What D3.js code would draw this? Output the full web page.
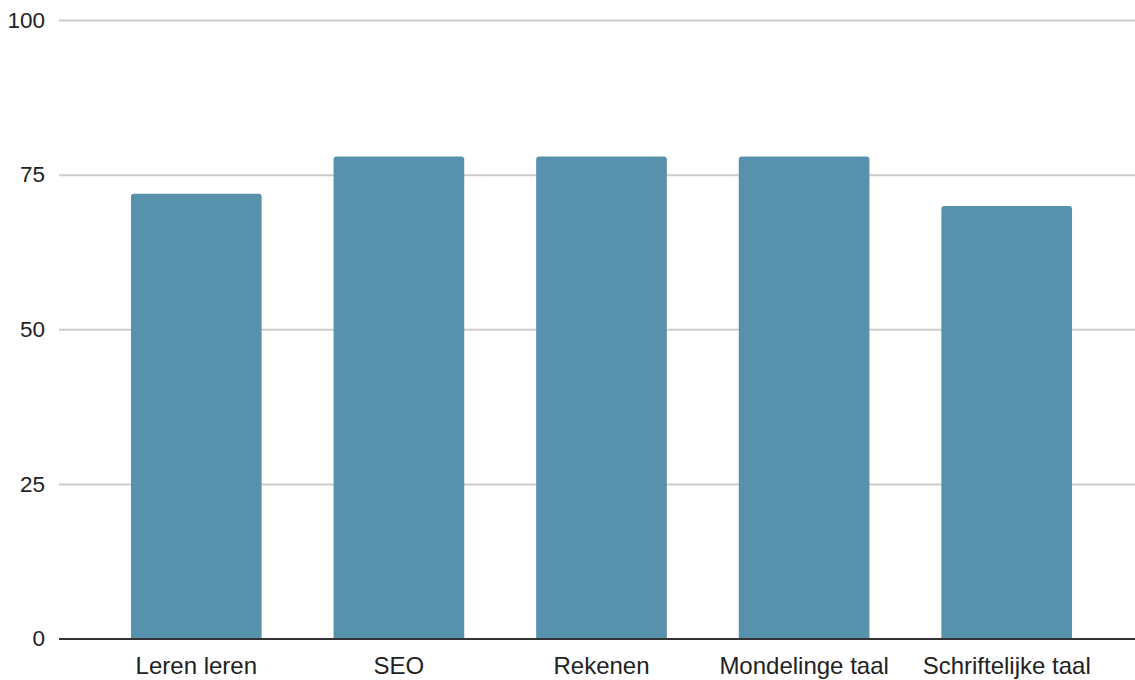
<!DOCTYPE html>
<html>
<head>
<meta charset="utf-8">
<script src="https://cdn.jsdelivr.net/npm/d3@7"></script>
<style>
  body { margin: 0; background: #fff; }
  text { font-family: "Liberation Sans", Arial, sans-serif; fill: #222; }
</style>
</head>
<body>
<div id="vis"></div>
<script>
// chart data
const CATEGORIES = ["Leren leren", "SEO", "Rekenen", "Mondelinge taal", "Schriftelijke taal"];
const VALUES = [72, 78, 78, 78, 70];
const Y_TICKS = [0, 25, 50, 75, 100];

// frame
const FRAME_WIDTH = 1135;
const FRAME_HEIGHT = 680;
const MARGINS = {left: 59, right: 0, top: 20.5, bottom: 41};

const FRAME = d3.select("#vis")
  .append("svg")
  .attr("width", FRAME_WIDTH)
  .attr("height", FRAME_HEIGHT);

// scales
const X_SCALE = d3.scaleBand()
  .domain(CATEGORIES)
  .range([95, 1108])
  .paddingInner(0.355)
  .paddingOuter(0.1775);

const Y_SCALE = d3.scaleLinear()
  .domain([0, 100])
  .range([FRAME_HEIGHT - MARGINS.bottom, MARGINS.top]);

// gridlines
FRAME.append("g")
  .selectAll("line")
  .data(Y_TICKS.filter(d => d > 0))
  .enter()
  .append("line")
  .attr("x1", MARGINS.left)
  .attr("x2", FRAME_WIDTH - MARGINS.right)
  .attr("y1", d => Y_SCALE(d))
  .attr("y2", d => Y_SCALE(d))
  .attr("stroke", "#cccccc")
  .attr("stroke-width", 2);

// y axis labels
const yAxis = FRAME.append("g")
  .attr("transform", "translate(" + (MARGINS.left - 14) + ",0)")
  .call(d3.axisLeft(Y_SCALE).tickValues(Y_TICKS).tickSize(0).tickPadding(0));
yAxis.select(".domain").remove();
yAxis.selectAll("text")
  .attr("font-size", "22.5px")
  .attr("dy", "0.3em")
  .attr("fill", "#222");

// bars with rounded tops
const R = 3;
FRAME.selectAll(".bar")
  .data(VALUES)
  .enter()
  .append("path")
  .attr("class", "bar")
  .attr("fill", "#5791ab")
  .attr("d", (d, i) => {
    const x0 = X_SCALE(CATEGORIES[i]);
    const x1 = x0 + X_SCALE.bandwidth();
    const y0 = Y_SCALE(d);
    const yb = Y_SCALE(0);
    return "M" + x0 + "," + yb +
      "V" + (y0 + R) +
      "Q" + x0 + "," + y0 + " " + (x0 + R) + "," + y0 +
      "H" + (x1 - R) +
      "Q" + x1 + "," + y0 + " " + x1 + "," + (y0 + R) +
      "V" + yb + "Z";
  });

// baseline
FRAME.append("line")
  .attr("x1", MARGINS.left)
  .attr("x2", FRAME_WIDTH - MARGINS.right)
  .attr("y1", Y_SCALE(0))
  .attr("y2", Y_SCALE(0))
  .attr("stroke", "#333333")
  .attr("stroke-width", 2);

// x axis labels
const xAxis = FRAME.append("g")
  .attr("transform", "translate(0," + Y_SCALE(0) + ")")
  .call(d3.axisBottom(X_SCALE).tickSize(0).tickPadding(0));
xAxis.select(".domain").remove();
xAxis.selectAll("text")
  .attr("font-size", "24px")
  .attr("dy", "0")
  .attr("y", 35)
  .attr("fill", "#222");
</script>
</body>
</html>
